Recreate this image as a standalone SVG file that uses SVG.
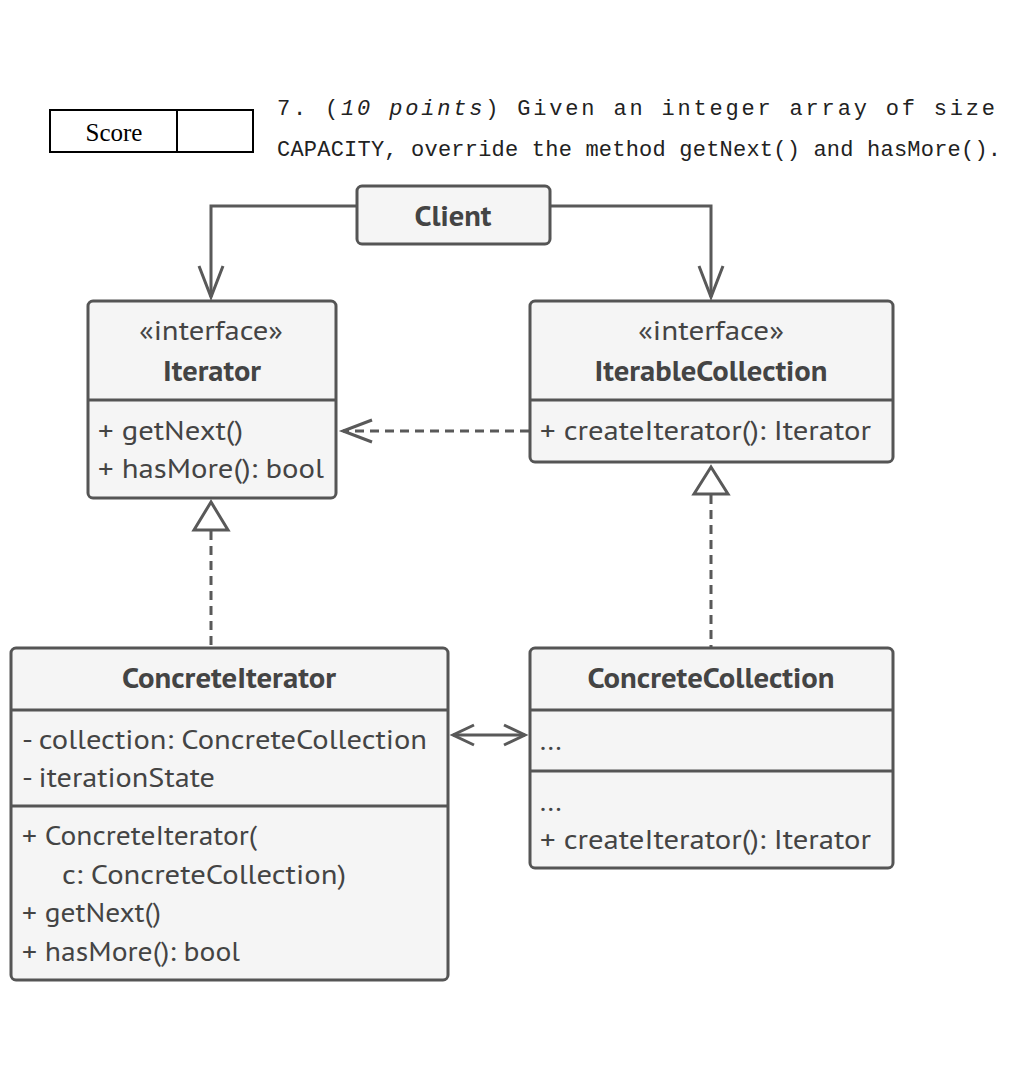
<svg xmlns="http://www.w3.org/2000/svg" width="1014" height="1090" viewBox="0 0 1014 1090">
<defs>
<style>
.box{fill:#f5f5f5;stroke:#555;stroke-width:3}
.div{stroke:#555;stroke-width:3}
.t{font-family:"PT Sans",Lato,"Noto Sans",sans-serif;font-size:28px;fill:#444}
.b{font-weight:bold}
.m{text-anchor:middle}
.ln{fill:none;stroke:#595959;stroke-width:3}
.dash{stroke-dasharray:9 6}
.hd{fill:none;stroke:#595959;stroke-width:3;stroke-linejoin:miter}
.q{font-family:"Liberation Mono","Noto Sans CJK SC",monospace;font-size:22px;fill:#222}
</style>
</defs>
<rect width="1014" height="1090" fill="#fff"/>
<g id="score">
<rect x="50" y="110" width="203" height="42" fill="none" stroke="#000" stroke-width="2"/>
<line x1="177" y1="110" x2="177" y2="152" stroke="#000" stroke-width="2"/>
<text x="114" y="141" font-family="Liberation Serif,serif" font-size="25" text-anchor="middle" fill="#000">Score</text>
</g>
<g id="question">
<text class="q" x="277" y="115" textLength="718" lengthAdjust="spacing">7.  (<tspan font-style="italic">10 points</tspan>) Given an integer array of size</text>
<text class="q" x="277" y="156" textLength="724" lengthAdjust="spacing">CAPACITY, override the method getNext() and hasMore().</text>
</g>
<g id="connectors">
<polyline class="ln" points="357,206 211,206 211,297"/>
<polyline class="hd" points="199,266 211,297 223,266"/>
<polyline class="ln" points="550,206 711,206 711,297"/>
<polyline class="hd" points="699,266 711,297 723,266"/>
<line class="ln dash" x1="529" y1="431" x2="343" y2="431"/>
<polyline class="hd" points="372,420 343,431 372,442"/>
<polygon class="hd" points="211,502 194,530 228,530"/>
<line class="ln dash" x1="211" y1="531" x2="211" y2="647"/>
<polygon class="hd" points="711,467 694,494 728,494"/>
<line class="ln dash" x1="711" y1="495" x2="711" y2="647"/>
<line class="ln" x1="453" y1="735" x2="525" y2="735"/>
<polyline class="hd" points="474,725 453,735 474,745"/>
<polyline class="hd" points="504,725 525,735 504,745"/>
</g>
<g id="client">
<rect class="box" x="357" y="186" width="193" height="58" rx="5"/>
<text class="t b m" x="453" y="226" textLength="77" lengthAdjust="spacingAndGlyphs">Client</text>
</g>
<g id="iterator">
<rect class="box" x="88" y="301" width="248" height="197" rx="5"/>
<line class="div" x1="88" y1="400" x2="336" y2="400"/>
<text class="t m" x="211" y="340" textLength="144" lengthAdjust="spacingAndGlyphs">«interface»</text>
<text class="t b m" x="212" y="381" textLength="98" lengthAdjust="spacingAndGlyphs">Iterator</text>
<text class="t" x="98" y="440" textLength="145" lengthAdjust="spacingAndGlyphs">+ getNext()</text>
<text class="t" x="98" y="478" textLength="226" lengthAdjust="spacingAndGlyphs">+ hasMore(): bool</text>
</g>
<g id="iterableCollection">
<rect class="box" x="530" y="301" width="363" height="161" rx="5"/>
<line class="div" x1="530" y1="400" x2="893" y2="400"/>
<text class="t m" x="711" y="340" textLength="146" lengthAdjust="spacingAndGlyphs">«interface»</text>
<text class="t b m" x="711" y="381" textLength="233" lengthAdjust="spacingAndGlyphs">IterableCollection</text>
<text class="t" x="540" y="440" textLength="331" lengthAdjust="spacingAndGlyphs">+ createIterator(): Iterator</text>
</g>
<g id="concreteIterator">
<rect class="box" x="11" y="648" width="437" height="332" rx="5"/>
<line class="div" x1="11" y1="710" x2="448" y2="710"/>
<line class="div" x1="11" y1="806" x2="448" y2="806"/>
<text class="t b m" x="229" y="688" textLength="214" lengthAdjust="spacingAndGlyphs">ConcreteIterator</text>
<text class="t" x="22" y="749" textLength="405" lengthAdjust="spacingAndGlyphs">- collection: ConcreteCollection</text>
<text class="t" x="22" y="787" textLength="193" lengthAdjust="spacingAndGlyphs">- iterationState</text>
<text class="t" x="22" y="845" textLength="235" lengthAdjust="spacingAndGlyphs">+ ConcreteIterator(</text>
<text class="t" x="62" y="884" textLength="284" lengthAdjust="spacingAndGlyphs">c: ConcreteCollection)</text>
<text class="t" x="22" y="922" textLength="139" lengthAdjust="spacingAndGlyphs">+ getNext()</text>
<text class="t" x="22" y="961" textLength="218" lengthAdjust="spacingAndGlyphs">+ hasMore(): bool</text>
</g>
<g id="concreteCollection">
<rect class="box" x="530" y="648" width="363" height="220" rx="5"/>
<line class="div" x1="530" y1="710" x2="893" y2="710"/>
<line class="div" x1="530" y1="771" x2="893" y2="771"/>
<text class="t b m" x="711" y="688" textLength="247" lengthAdjust="spacingAndGlyphs">ConcreteCollection</text>
<text class="t" x="540" y="750">...</text>
<text class="t" x="540" y="811">...</text>
<text class="t" x="540" y="849" textLength="331" lengthAdjust="spacingAndGlyphs">+ createIterator(): Iterator</text>
</g>
</svg>
